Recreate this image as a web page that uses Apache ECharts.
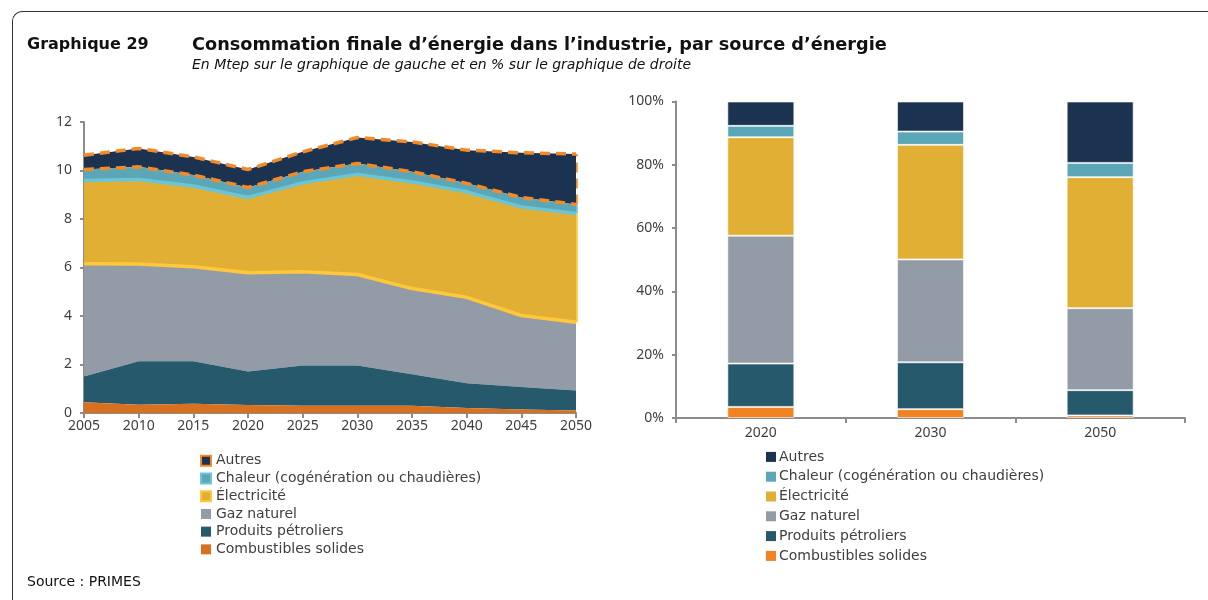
<!DOCTYPE html>
<html lang="fr">
  <head>
    <meta charset="UTF-8" />
    <title>Consommation finale d'énergie dans l'industrie</title>
    <script src="https://cdn.jsdelivr.net/npm/echarts@6/dist/echarts.min.js"></script>
    <style>
      body { margin: 0; background: #fff; }
      #wrap { position: relative; width: 1208px; height: 600px; overflow: hidden; }
      #frame {
        position: absolute; left: 12px; top: 11px; width: 1400px; height: 800px;
        border-left: 1.5px solid #333; border-top: 1.5px solid #333;
        border-top-left-radius: 10px;
      }
      #main { position: absolute; left: 0; top: 0; width: 1208px; height: 600px; }
    </style>
  </head>
  <body>
    <div id="wrap">
      <div id="frame"></div>
      <div id="main"></div>
    </div>
    <script>
      // graphique de gauche, en Mtep
      var years = ['2005', '2010', '2015', '2020', '2025', '2030', '2035', '2040', '2045', '2050'];
      var solides = [0.44, 0.34, 0.38, 0.33, 0.30, 0.30, 0.30, 0.21, 0.14, 0.10];
      var petroliers = [1.07, 1.79, 1.75, 1.38, 1.66, 1.66, 1.30, 1.02, 0.93, 0.83];
      var gaz = [4.64, 4.01, 3.90, 4.07, 3.86, 3.75, 3.53, 3.54, 2.95, 2.81];
      var elec = [3.44, 3.49, 3.33, 3.11, 3.67, 4.13, 4.40, 4.35, 4.48, 4.49];
      var chaleur = [0.45, 0.52, 0.45, 0.41, 0.46, 0.45, 0.42, 0.35, 0.39, 0.37];
      var autres = [0.59, 0.76, 0.75, 0.74, 0.82, 1.07, 1.23, 1.37, 1.84, 2.08];

      // graphique de droite, en %
      var barYears = ['2020', '2030', '2050'];
      var solidesPct = [3.5, 2.8, 0.8];
      var petroliersPct = [13.7, 14.8, 8.0];
      var gazPct = [40.4, 32.5, 25.9];
      var elecPct = [31.1, 36.2, 41.4];
      var chaleurPct = [3.6, 4.2, 4.5];
      var autresPct = [7.7, 9.5, 19.4];

      var leftTicks = [0, 12, 2];
      var names = ['Autres', 'Chaleur (cogénération ou chaudières)', 'Électricité', 'Gaz naturel', 'Produits pétroliers', 'Combustibles solides'];

      var navy = '#1b3350', teal = '#5ba7b7', tealBorder = '#6ac6d6', yellow = '#e1af33',
        yellowBorder = '#ffc83a', grey = '#939ba6', petrol = '#27596d', brown = '#d8711f',
        orange = '#f28323', dashOrange = '#f48a26';
      var txt = '#404040';
      var font = 'Noto Sans';
      var font2 = 'DejaVu Sans';

      // somme cumulée au dernier point (bords verticaux à 2050)
      var last = years.length - 1;
      function cum(list) {
        var s = 0;
        list.forEach(function (a) { s += a[last]; });
        return s;
      }
      var cGaz = cum([solides, petroliers, gaz]);
      var cElec = cGaz + elec[last];
      var cChal = cElec + chaleur[last];
      var cAut = cChal + autres[last];

      function edge(a, b, style) {
        return {
          symbol: 'none', silent: true, label: { show: false }, lineStyle: style,
          data: [[{ coord: ['2050', a] }, { coord: ['2050', b] }]],
        };
      }
      var dashed = { color: dashOrange, width: 3.5, type: [10, 6] };

      function area(name, data, color, z, line, mark) {
        return {
          name: name, type: 'line', stack: 'mtep', data: data, z: z,
          xAxisIndex: 0, yAxisIndex: 0, symbol: 'none',
          areaStyle: { color: color, opacity: 1 },
          itemStyle: { color: color },
          lineStyle: line || { width: 0 },
          markLine: mark,
        };
      }
      function bar(name, data, color) {
        return {
          name: name, type: 'bar', stack: 'pct', data: data, barWidth: 67,
          xAxisIndex: 1, yAxisIndex: 1,
          itemStyle: { color: color, borderColor: 'rgba(255,255,255,0.6)', borderWidth: 1 },
        };
      }

      var mCharts = echarts.init(document.getElementById('main'));

      var axisLine = { lineStyle: { color: '#8c8c8c', width: 2 } };
      var axisTick = { show: true, length: 5, lineStyle: { color: '#8c8c8c', width: 2 } };
      var legText = { fontFamily: font2, fontSize: 14, color: txt };

      var option = {
        animation: false,
        textStyle: { fontFamily: font },
        title: [
          { text: 'Graphique 29', left: 27, top: 37, padding: 0, textStyle: { fontFamily: font2, fontSize: 16, fontWeight: 'bold', color: '#111' } },
          {
            text: 'Consommation finale d’énergie dans l’industrie, par source d’énergie',
            subtext: 'En Mtep sur le graphique de gauche et en % sur le graphique de droite',
            left: 192, top: 36, padding: 0, itemGap: 4,
            textStyle: { fontFamily: font2, fontSize: 17.7, fontWeight: 'bold', color: '#111' },
            subtextStyle: { fontFamily: font2, fontSize: 14, fontStyle: 'italic', color: '#111' },
          },
          { text: 'Source : PRIMES', left: 27, top: 575, padding: 0, textStyle: { fontFamily: font2, fontSize: 14, fontWeight: 'normal', color: '#111' } },
        ],
        legend: [
          {
            orient: 'vertical', left: 200, top: 452, padding: 0, itemWidth: 10, itemHeight: 10, itemGap: 0,
            selectedMode: false,
            textStyle: Object.assign({ lineHeight: 17.7 }, legText),
            data: [
              { name: names[0], icon: 'rect', itemStyle: { color: navy, borderColor: dashOrange, borderWidth: 2 } },
              { name: names[1], icon: 'rect', itemStyle: { color: teal, borderColor: tealBorder, borderWidth: 2 } },
              { name: names[2], icon: 'rect', itemStyle: { color: yellow, borderColor: yellowBorder, borderWidth: 2 } },
              { name: names[3], icon: 'rect', itemStyle: { color: grey, borderWidth: 0 } },
              { name: names[4], icon: 'rect', itemStyle: { color: petrol, borderWidth: 0 } },
              { name: names[5], icon: 'rect', itemStyle: { color: brown, borderWidth: 0 } },
            ],
          },
          {
            orient: 'vertical', left: 766, top: 447, padding: 0, itemWidth: 10, itemHeight: 10, itemGap: 0,
            selectedMode: false,
            textStyle: Object.assign({ lineHeight: 19.8, padding: [0, 0, 0, -2] }, legText),
            data: [
              { name: names[0], icon: 'rect', itemStyle: { color: navy, borderWidth: 0 } },
              { name: names[1], icon: 'rect', itemStyle: { color: teal, borderWidth: 0 } },
              { name: names[2], icon: 'rect', itemStyle: { color: yellow, borderWidth: 0 } },
              { name: names[3], icon: 'rect', itemStyle: { color: grey, borderWidth: 0 } },
              { name: names[4], icon: 'rect', itemStyle: { color: petrol, borderWidth: 0 } },
              { name: names[5], icon: 'rect', itemStyle: { color: orange, borderWidth: 0 } },
            ],
          },
        ],
        grid: [
          { left: 84, top: 122, width: 492, height: 291 },
          { left: 676, top: 101.5, width: 509, height: 316.5 },
        ],
        xAxis: [
          {
            type: 'category', gridIndex: 0, data: years, boundaryGap: false,
            axisLine: axisLine, axisTick: axisTick,
            axisLabel: { color: txt, fontSize: 14, margin: 6 },
          },
          {
            type: 'category', gridIndex: 1, data: barYears,
            axisLine: axisLine, axisTick: axisTick,
            axisLabel: { color: txt, fontSize: 14, margin: 8 },
          },
        ],
        yAxis: [
          {
            type: 'value', gridIndex: 0, min: leftTicks[0], max: leftTicks[1], interval: leftTicks[2],
            axisLine: { show: true, lineStyle: { color: '#8c8c8c', width: 2 } },
            axisTick: { show: true, length: 4, lineStyle: { color: '#8c8c8c', width: 2 } },
            splitLine: { show: false },
            axisLabel: { color: txt, fontSize: 14, margin: 12 },
          },
          {
            type: 'value', gridIndex: 1, min: 0, max: 100, interval: 20,
            axisLine: { show: true, lineStyle: { color: '#8c8c8c', width: 2 } },
            axisTick: { show: true, length: 4, lineStyle: { color: '#8c8c8c', width: 2 } },
            splitLine: { show: false },
            axisLabel: { color: txt, fontSize: 14, margin: 12, formatter: '{value}%' },
          },
        ],
        series: [
          area(names[5], solides, brown, 10),
          area(names[4], petroliers, petrol, 9),
          // le bord jaune de l'électricité est dessiné sur le haut du gaz
          area(names[3], gaz, grey, 8, { color: yellowBorder, width: 3.5 }),
          area(names[2], elec, yellow, 7, { color: tealBorder, width: 3.5 },
            edge(cGaz, cElec, { color: yellowBorder, width: 3.5, type: 'solid' })),
          area(names[1], chaleur, teal, 6, dashed,
            edge(cElec, cChal, { color: tealBorder, width: 3.5, type: 'solid' })),
          area(names[0], autres, navy, 5, dashed, edge(cChal, cAut, dashed)),

          bar(names[5], solidesPct, orange),
          bar(names[4], petroliersPct, petrol),
          bar(names[3], gazPct, grey),
          bar(names[2], elecPct, yellow),
          bar(names[1], chaleurPct, teal),
          bar(names[0], autresPct, navy),
        ],
      };

      mCharts.setOption(option);
    </script>
  </body>
</html>
